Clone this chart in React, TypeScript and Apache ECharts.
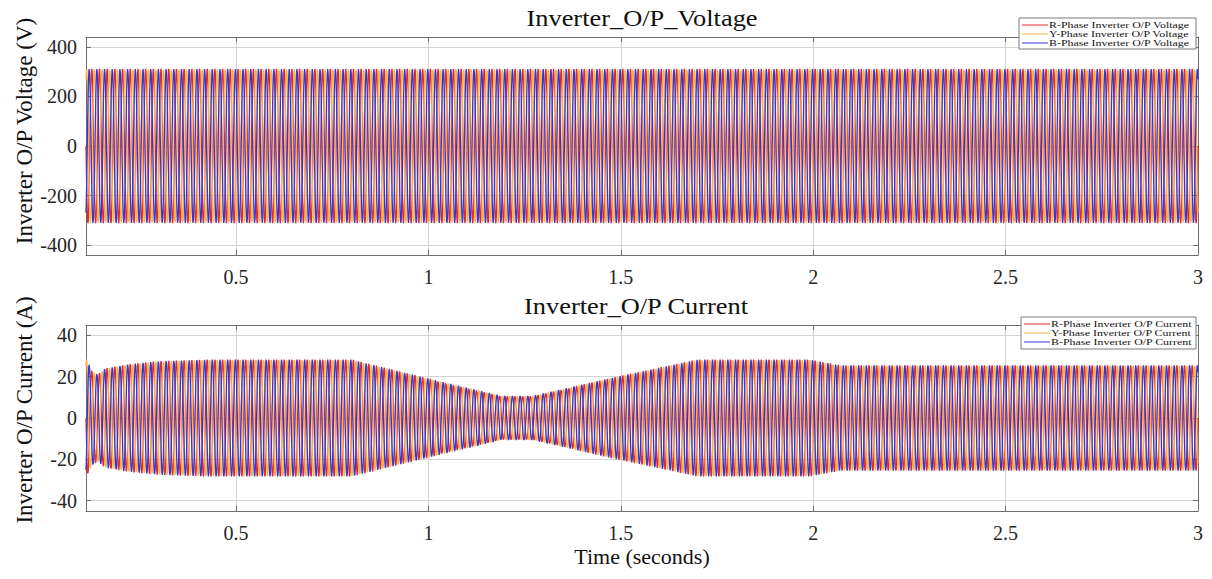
import React, { useEffect, useRef } from "react";
import * as echarts from "echarts";

// Time window (s) and axis tick values
const T_START = 0.11;
const T_END = 3.0;
const X_TICKS = [0.5, 1, 1.5, 2, 2.5, 3];
const V_TICKS = [-400, -200, 0, 200, 400];
const I_TICKS = [-40, -20, 0, 20, 40];
const V_LIMIT = 440;
const I_LIMIT = 45;

// Supply waveform parameters
const FREQ_HZ = 50;
const SAMPLES_PER_CYCLE = 32;
const PHASE_NAMES = ["R", "Y", "B"];
const PHASE_SHIFT_DEG = [0, -120, 120];
const PHASE_COLORS = ["#e22a2a", "#f6b347", "#3636d2"];

// Voltage peak (V), constant over the run
const V_PEAK = 311;

// Current peak envelope (A) at breakpoints in time (s)
const CURRENT_ENV_T = [0.11, 0.125, 0.14, 0.16, 0.22, 0.3, 0.43, 0.8, 0.98, 1.19, 1.27, 1.49, 1.7, 1.99, 2.07, 3.0];
const CURRENT_ENV_A = [29, 23, 21, 24, 26, 27.5, 28.3, 28.3, 20, 10.7, 10.7, 20, 28.3, 28.3, 25.5, 25.5];

function envelopeAt(t: number): number {
  for (let i = 1; i < CURRENT_ENV_T.length; i++) {
    if (t <= CURRENT_ENV_T[i]) {
      const t0 = CURRENT_ENV_T[i - 1];
      const t1 = CURRENT_ENV_T[i];
      const f = (t - t0) / (t1 - t0);
      return CURRENT_ENV_A[i - 1] + f * (CURRENT_ENV_A[i] - CURRENT_ENV_A[i - 1]);
    }
  }
  return CURRENT_ENV_A[CURRENT_ENV_A.length - 1];
}

function phaseWave(shiftDeg: number, amp: (t: number) => number): number[][] {
  const n = Math.round((T_END - T_START) * FREQ_HZ * SAMPLES_PER_CYCLE);
  const pts: number[][] = [];
  const shift = (shiftDeg * Math.PI) / 180;
  for (let k = 0; k <= n; k++) {
    const t = T_START + ((T_END - T_START) * k) / n;
    pts.push([t, amp(t) * Math.sin(2 * Math.PI * FREQ_HZ * t + shift)]);
  }
  return pts;
}

const SERIF = "Liberation Serif";
const AXIS_COLOR = "#6e6e6e";
const GRID_COLOR = "#d4d4d4";
const LABEL_COLOR = "#262626";
const TRACE_WIDTH = 1.3;

const GRIDS = [
  { left: 86, top: 37, width: 1112, height: 218 },
  { left: 86, top: 325, width: 1112, height: 186 },
];

// Legend boxes
const LEGEND_BOXES = [
  { x: 1019, y: 18, w: 177, h: 31, suffix: "Voltage" },
  { x: 1021, y: 317, w: 175, h: 32, suffix: "Current" },
];

function centeredText(text: string, x: number, y: number, size: number, rotation = 0, scaleX = 1) {
  return {
    type: "text",
    x,
    y,
    rotation,
    scaleX,
    z: 100,
    style: {
      text,
      font: `${size}px ${SERIF}`,
      fill: "#111",
      textAlign: "center",
      textVerticalAlign: "middle",
      align: "center",
      verticalAlign: "middle",
    },
  };
}

function legendGraphic(box: { x: number; y: number; w: number; h: number; suffix: string }) {
  const els: any[] = [
    {
      type: "rect",
      z: 100,
      shape: { x: box.x, y: box.y, width: box.w, height: box.h },
      style: { fill: "#ffffff", stroke: "#7a7a7a", lineWidth: 1 },
    },
  ];
  PHASE_NAMES.forEach((p, i) => {
    const cy = box.y + 7 + i * 9;
    els.push({
      type: "line",
      z: 101,
      shape: { x1: box.x + 3, y1: cy, x2: box.x + 29, y2: cy },
      style: { stroke: PHASE_COLORS[i], lineWidth: 1 },
    });
    els.push({
      type: "text",
      z: 101,
      x: box.x + 30,
      y: cy,
      scaleX: 1.4,
      style: {
        text: `${p}-Phase Inverter O/P ${box.suffix}`,
        font: `8.5px ${SERIF}`,
        fill: "#111",
        textAlign: "left",
        textVerticalAlign: "middle",
        align: "left",
        verticalAlign: "middle",
      },
    });
  });
  return els;
}

export default function App() {
  const ref = useRef<HTMLDivElement>(null);

  useEffect(() => {
    if (!ref.current) return;
    const chart = echarts.init(ref.current, null, { renderer: "svg" });

    const xAxes: any[] = [];
    const yAxes: any[] = [];
    GRIDS.forEach((_, gi) => {
      xAxes.push({
        type: "value",
        gridIndex: gi,
        min: T_START,
        max: T_END,
        position: "bottom",
        axisLine: { show: true, onZero: false, lineStyle: { color: AXIS_COLOR, width: 1 } },
        axisTick: { show: true, inside: true, length: 5, customValues: X_TICKS, lineStyle: { color: AXIS_COLOR } },
        axisLabel: {
          show: true,
          customValues: X_TICKS,
          color: LABEL_COLOR,
          fontFamily: SERIF,
          fontSize: 20,
          margin: 12,
        },
        splitLine: { show: true, lineStyle: { color: GRID_COLOR, width: 1 } },
      });
      xAxes.push({
        type: "value",
        gridIndex: gi,
        min: T_START,
        max: T_END,
        position: "top",
        axisLine: { show: true, onZero: false, lineStyle: { color: AXIS_COLOR, width: 1 } },
        axisTick: { show: true, inside: true, length: 5, customValues: X_TICKS, lineStyle: { color: AXIS_COLOR } },
        axisLabel: { show: false },
        splitLine: { show: false },
      });
      const ticks = gi === 0 ? V_TICKS : I_TICKS;
      const lim = gi === 0 ? V_LIMIT : I_LIMIT;
      yAxes.push({
        type: "value",
        gridIndex: gi,
        min: -lim,
        max: lim,
        position: "left",
        axisLine: { show: true, onZero: false, lineStyle: { color: AXIS_COLOR, width: 1 } },
        axisTick: { show: true, inside: true, length: 5, customValues: ticks, lineStyle: { color: AXIS_COLOR } },
        axisLabel: {
          show: true,
          customValues: ticks,
          color: LABEL_COLOR,
          fontFamily: SERIF,
          fontSize: 20,
          margin: 9,
        },
        splitLine: { show: true, lineStyle: { color: GRID_COLOR, width: 1 } },
      });
      yAxes.push({
        type: "value",
        gridIndex: gi,
        min: -lim,
        max: lim,
        position: "right",
        axisLine: { show: true, onZero: false, lineStyle: { color: AXIS_COLOR, width: 1 } },
        axisTick: { show: true, inside: true, length: 5, customValues: ticks, lineStyle: { color: AXIS_COLOR } },
        axisLabel: { show: false },
        splitLine: { show: false },
      });
    });

    const series: any[] = [];
    PHASE_NAMES.forEach((p, i) => {
      series.push({
        type: "line",
        name: `${p}-Phase Inverter O/P Voltage`,
        xAxisIndex: 0,
        yAxisIndex: 0,
        data: phaseWave(PHASE_SHIFT_DEG[i], () => V_PEAK),
        showSymbol: false,
        symbol: "none",
        lineStyle: { color: PHASE_COLORS[i], width: TRACE_WIDTH },
        itemStyle: { color: PHASE_COLORS[i] },
      });
    });
    PHASE_NAMES.forEach((p, i) => {
      series.push({
        type: "line",
        name: `${p}-Phase Inverter O/P Current`,
        xAxisIndex: 2,
        yAxisIndex: 2,
        data: phaseWave(PHASE_SHIFT_DEG[i], envelopeAt),
        showSymbol: false,
        symbol: "none",
        lineStyle: { color: PHASE_COLORS[i], width: TRACE_WIDTH },
        itemStyle: { color: PHASE_COLORS[i] },
      });
    });

    chart.setOption({
      animation: false,
      backgroundColor: "#ffffff",
      grid: GRIDS.map((g) => ({ ...g, containLabel: false })),
      xAxis: xAxes,
      yAxis: yAxes,
      series,
      graphic: [
        centeredText("Inverter_O/P_Voltage", 642, 18, 24, 0, 1.1),
        centeredText("Inverter_O/P Current", 636, 306, 24, 0, 1.1),
        centeredText("Inverter O/P Voltage (V)", 24, 131, 23, Math.PI / 2),
        centeredText("Inverter O/P Current (A)", 24, 410, 23, Math.PI / 2),
        centeredText("Time (seconds)", 642, 556, 22),
        ...legendGraphic(LEGEND_BOXES[0]),
        ...legendGraphic(LEGEND_BOXES[1]),
      ],
    });

    return () => chart.dispose();
  }, []);

  return (
    <div
      ref={ref}
      style={{ position: "fixed", left: 0, top: 0, width: 1212, height: 579, background: "#fff" }}
    />
  );
}
